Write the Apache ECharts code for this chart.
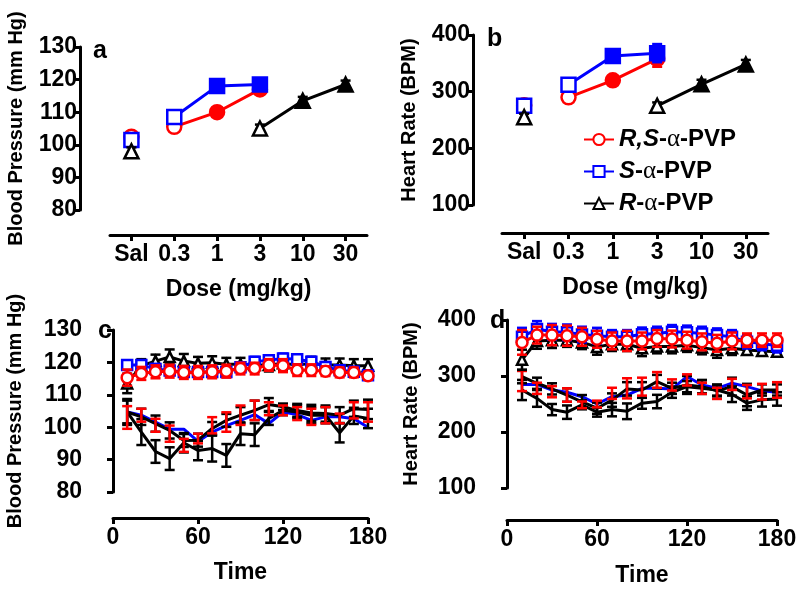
<!DOCTYPE html>
<html><head><meta charset="utf-8">
<script src="https://cdn.jsdelivr.net/npm/echarts@6/dist/echarts.min.js"></script>
<style>html,body{margin:0;padding:0;background:#fff}#c{width:800px;height:589px}</style>
</head><body><div id="c"></div>
<script>
// ---------- data ----------
const doseLabels = ['Sal', '0.3', '1', '3', '10', '30'];
const seriesNames = ['R,S-α-PVP', 'S-α-PVP', 'R-α-PVP'];

// panel a: blood pressure vs dose (index 0 = saline)
const bpRS = [102.5, 105.5, 110, 117, null, null];
const bpRSsem = [1.2, 1.2, 1.2, 1.5, null, null];
const bpRSsig = [0, 0, 1, 1, 0, 0];
const bpS = [101.5, 108.5, 118, 118.5, null, null];
const bpSsem = [1.2, 1.2, 1.2, 1.2, null, null];
const bpSsig = [0, 0, 1, 1, 0, 0];
const bpR = [98, null, null, 105, 113.5, 118.5];
const bpRsem = [1.2, null, null, 1.2, 1.2, 1.2];
const bpRsig = [0, 0, 0, 0, 1, 1];

// panel b: heart rate vs dose
const hrRS = [276, 290, 320, 358, null, null];
const hrRSsem = [8, 6, 8, 14, null, null];
const hrRSsig = [0, 0, 1, 1, 0, 0];
const hrS = [275, 312, 363, 368, null, null];
const hrSsem = [10, 6, 10, 16, null, null];
const hrSsig = [0, 0, 1, 1, 0, 0];
const hrR = [255, null, null, 275, 313, 348];
const hrRsem = [6, null, null, 6, 8, 8];
const hrRsig = [0, 0, 0, 0, 1, 1];

// panels c, d: time course
const timeTicks = [0, 60, 120, 180];
const times = [10, 20, 30, 40, 50, 60, 70, 80, 90, 100, 110, 120, 130, 140, 150, 160, 170, 180];

const tBpRS = [115.3, 116.6, 117.1, 117.3, 116.9, 116.9, 117.1, 117.3, 118.1, 118.1, 119.2, 119.0, 117.6, 117.6, 117.3, 116.9, 116.9, 115.9];
const tBpRSsem = [2.5, 2, 2, 2, 2, 2, 2, 2, 1.8, 1.8, 1.8, 2, 1.8, 1.8, 1.5, 1.5, 1.5, 1.2];
const tBpS = [119.2, 119.2, 118, 117.5, 117, 117, 117, 117, 118.5, 120.2, 120.7, 121.2, 121.0, 120.2, 118.6, 117.6, 117.1, 116];
const tBpSsem = [1.2, 1.2, 1.5, 1.5, 1.5, 1.5, 1.5, 1.5, 1.5, 1.5, 1.5, 1.5, 1.5, 1.5, 1.5, 1.5, 1.5, 1.2];
const tBpR = [113.5, 119, 120.4, 121.7, 120.4, 119.7, 119.9, 119.4, 119.4, 119.2, 119.2, 119.7, 119.2, 119.7, 119.2, 119.2, 119, 119];
const tBpRsem = [3, 2, 2, 2.3, 2.2, 2, 2, 2, 2, 2, 2, 2, 2, 2, 2, 2, 2, 2];

const tBpSalS = [104.7, 103.7, 101.6, 99.4, 99.4, 95.6, 98.5, 100.5, 102.1, 103.9, 101.1, 104.7, 103.9, 102.1, 103.2, 103.2, 102.6, 100];
const tBpSalA = [104.7, 98.5, 92.5, 90.3, 95.2, 92.8, 93.4, 91.3, 98, 97.7, 102.7, 105.2, 104.7, 103.7, 103.7, 98.3, 103.5, 102.7];
const tBpSalAsem = [4, 4, 3.5, 3.5, 3, 3, 4, 3.5, 3.5, 3.5, 2, 1.5, 2, 2.5, 2.5, 3, 2.5, 3];
const tBpSalB = [104.7, 103.2, 101.1, 99, 95.9, 96, 99.6, 102.1, 103.7, 105.2, 107, 106.3, 105.2, 104.4, 104.2, 103.7, 105.7, 105.5];
const tBpSalBsem = [3.5, 2.5, 2.5, 2.5, 2, 2, 2, 2, 2.5, 3, 2, 1, 2, 2.5, 2.5, 2.5, 2.5, 3];
const tBpSalRS = [103, 103.7, 100.6, 98, 94.4, 96.5, 100.6, 101.6, 103.7, 105.2, 105.7, 105.2, 104.2, 103.2, 103.7, 102.7, 105.2, 104.7];
const tBpSalRSsem = [3.5, 2, 2, 2.5, 2, 1.5, 2.5, 3, 3, 3, 2, 1.5, 2, 2.5, 2.5, 1.5, 2.5, 3];

const tHrRS = [360, 373, 373, 372, 370, 365.5, 362.6, 362.6, 362.6, 367, 366, 364, 361, 358.4, 362.6, 364, 364, 364];
const tHrRSsem = [22, 15, 18, 18, 16, 15, 15, 18, 15, 15, 15, 15, 15, 15, 15, 12, 12, 12];
const tHrS = [370, 384, 379, 378, 374, 372, 370, 370, 374.5, 376, 379, 378, 376, 373, 370, 361, 358, 354];
const tHrSsem = [16, 14, 14, 14, 14, 14, 12, 12, 12, 12, 12, 12, 12, 12, 12, 12, 12, 12];
const tHrR = [329, 362.6, 364, 364, 360, 352, 356.6, 356.6, 349.5, 352.5, 352.5, 355, 350.7, 346.5, 349.5, 346.5, 344.7, 343.5];
const tHrRsem = [18, 14, 14, 12, 12, 14, 12, 12, 14, 12, 12, 12, 12, 14, 12, 8, 8, 8];

const tHrSalS = [285, 285, 275, 271, 263, 250, 263, 266, 278, 278, 277, 299, 284, 278, 287, 281, 273.5, 271];
const tHrSalA = [275, 260, 240, 235.4, 248.5, 235.4, 240, 237, 251.5, 254.4, 271, 281, 278, 275, 267.5, 251.5, 257.4, 259];
const tHrSalAsem = [18, 15, 10, 12, 8, 8, 12, 14, 10, 12, 10, 10, 10, 10, 14, 12, 12, 12];
const tHrSalB = [299, 287, 277, 266, 254, 242.5, 257, 277, 275, 290, 278, 284, 281, 273.5, 281, 266, 275, 275];
const tHrSalBsem = [12, 10, 10, 12, 12, 10, 12, 12, 14, 12, 10, 16, 12, 10, 16, 20, 10, 10];
const tHrSalRS = [291, 278, 272, 266, 248.5, 250, 269, 278, 281, 293, 284, 293, 278, 269, 285, 272, 272, 275];
const tHrSalRSsem = [18, 10, 10, 12, 6, 6, 10, 18, 16, 14, 10, 10, 10, 10, 10, 12, 14, 14];

// ---------- styling ----------
const RED = '#ff0000', BLUE = '#0000ff', BLACK = '#000000';
const FONT = 'Liberation Sans';
const axisLineStyle = { color: '#000', width: 3 };
const lbl = { color: '#000', fontFamily: FONT, fontWeight: 'bold', fontSize: 23 };

function errSeries(ax, xs, means, sems, color, cap, z) {
  const data = [];
  means.forEach((m, i) => {
    if (m == null || sems[i] == null) return;
    data.push([xs[i], m - sems[i], m + sems[i]]);
  });
  return {
    type: 'custom', xAxisIndex: ax, yAxisIndex: ax, data, silent: true, z: z || 2,
    encode: { x: 0, y: [1, 2] },
    renderItem(params, api) {
      const x = api.value(0);
      const a = api.coord([x, api.value(1)]);
      const b = api.coord([x, api.value(2)]);
      const mk = (x1, y1, x2, y2) => ({ type: 'line', shape: { x1, y1, x2, y2 }, style: { stroke: color, lineWidth: 2.5 } });
      return { type: 'group', children: [
        mk(a[0], a[1], b[0], b[1]),
        mk(a[0] - cap, a[1], a[0] + cap, a[1]),
        mk(b[0] - cap, b[1], b[0] + cap, b[1])
      ] };
    }
  };
}

// dose-response line (saline excluded from the connected line)
function doseLine(ax, vals, sig, color, symbol, name, z) {
  return {
    type: 'line', name, xAxisIndex: ax, yAxisIndex: ax, z: z,
    symbol, symbolSize: 14,
    connectNulls: false,
    lineStyle: { color, width: 3 },
    itemStyle: { color: '#fff', borderColor: color, borderWidth: 2.5 },
    data: vals.map((v, i) => (i === 0 || v == null) ? null : { value: v, itemStyle: { color: sig[i] ? color : '#fff' } })
  };
}
function salPoint(ax, vals, color, symbol, z) {
  return {
    type: 'scatter', xAxisIndex: ax, yAxisIndex: ax, z: z,
    symbol, symbolSize: 14,
    itemStyle: { color: '#fff', borderColor: color, borderWidth: 2.5, opacity: 1 },
    data: [[0, vals[0]]]
  };
}
function timeLine(ax, vals, color, symbol, z, size) {
  return {
    type: 'line', xAxisIndex: ax, yAxisIndex: ax, z: z,
    symbol: symbol || 'none', symbolSize: size || 10, showSymbol: !!symbol,
    lineStyle: { color, width: 3 },
    itemStyle: { color: '#fff', borderColor: color, borderWidth: 2.5 },
    data: times.map((t, i) => [t, vals[i]])
  };
}
const idx = doseLabels.map((d, i) => i);

function catX(gi, offset) {
  return {
    type: 'category', gridIndex: gi, data: doseLabels, offset,
    axisLine: { show: true, lineStyle: axisLineStyle },
    axisTick: { show: true, alignWithLabel: true, length: 6, lineStyle: axisLineStyle },
    axisLabel: Object.assign({ margin: 8, interval: 0 }, lbl),
    splitLine: { show: false },
    name: 'Dose (mg/kg)', nameLocation: 'middle', nameGap: 43, nameTextStyle: lbl
  };
}
function timeX(gi, offset, gap) {
  return {
    type: 'value', gridIndex: gi, min: 0, max: 180, interval: 60, offset,
    axisLine: { show: true, lineStyle: axisLineStyle },
    axisTick: { show: true, length: 6, lineStyle: axisLineStyle },
    axisLabel: Object.assign({ margin: 8 }, lbl),
    splitLine: { show: false },
    name: 'Time', nameLocation: 'middle', nameGap: gap, nameTextStyle: lbl
  };
}
function valY(gi, min, max, interval, offset, name, gap) {
  return {
    type: 'value', gridIndex: gi, min, max, interval, offset,
    axisLine: { show: true, lineStyle: axisLineStyle },
    axisTick: { show: true, length: 6, lineStyle: axisLineStyle },
    axisLabel: Object.assign({ margin: 3 }, lbl),
    splitLine: { show: false },
    name, nameLocation: 'middle', nameGap: gap,
    nameTextStyle: { color: '#000', fontFamily: FONT, fontWeight: 'bold', fontSize: 20 }
  };
}
const letterFont = 'bold 25px "Liberation Sans", sans-serif';

const option = {
  animation: false,
  backgroundColor: '#fff',
  grid: [
    { left: 110, top: 47, width: 257, height: 163, outerBoundsMode: 'none' },
    { left: 502, top: 35, width: 266, height: 170, outerBoundsMode: 'none' },
    { left: 113, top: 330, width: 255, height: 162, outerBoundsMode: 'none' },
    { left: 507, top: 320, width: 270, height: 168, outerBoundsMode: 'none' }
  ],
  xAxis: [catX(0, 25), catX(1, 28), timeX(2, 26, 43), timeX(3, 32, 44)],
  yAxis: [
    valY(0, 80, 130, 10, 30, 'Blood Pressure (mm Hg)', 54),
    valY(1, 100, 400, 100, 29, 'Heart Rate (BPM)', 54),
    valY(2, 80, 130, 10, 28, 'Blood Pressure (mm Hg)', 60),
    valY(3, 100, 400, 100, 28, 'Heart Rate (BPM)', 58)
  ],
  legend: {
    orient: 'vertical', left: 578, top: 122, itemGap: 7, itemWidth: 30, itemHeight: 14,
    selectedMode: false,
    data: seriesNames,
    formatter: (name) => {
      const pre = name.split('-α-')[0];
      return '{i|' + pre + '}{n|-}{g|α}{n|-PVP}';
    },
    textStyle: {
      color: '#000', fontFamily: FONT, fontWeight: 'bold', fontSize: 24,
      rich: {
        i: { fontFamily: FONT, fontWeight: 'bold', fontStyle: 'italic', fontSize: 24, color: '#000' },
        n: { fontFamily: FONT, fontWeight: 'bold', fontSize: 24, color: '#000' },
        g: { fontFamily: 'Liberation Serif', fontWeight: 'normal', fontSize: 25, color: '#000' }
      }
    }
  },
  graphic: [
    { type: 'text', x: 93, y: 51, style: { text: 'a', font: letterFont, fill: '#000', verticalAlign: 'middle' } },
    { type: 'text', x: 487, y: 39, style: { text: 'b', font: letterFont, fill: '#000', verticalAlign: 'middle' } },
    { type: 'text', x: 98, y: 331, style: { text: 'c', font: letterFont, fill: '#000', verticalAlign: 'middle' } },
    { type: 'text', x: 490, y: 321, style: { text: 'd', font: letterFont, fill: '#000', verticalAlign: 'middle' } }
  ],
  series: [
    // panel a
    errSeries(0, idx, bpRS, bpRSsem, RED, 5, 2),
    salPoint(0, bpRS, RED, 'circle', 3),
    doseLine(0, bpRS, bpRSsig, RED, 'circle', 'a-rs', 3),
    errSeries(0, idx, bpS, bpSsem, BLUE, 5, 4),
    salPoint(0, bpS, BLUE, 'rect', 5),
    doseLine(0, bpS, bpSsig, BLUE, 'rect', 'a-s', 5),
    errSeries(0, idx, bpR, bpRsem, BLACK, 5, 6),
    salPoint(0, bpR, BLACK, 'triangle', 7),
    doseLine(0, bpR, bpRsig, BLACK, 'triangle', 'a-r', 7),
    // panel b
    errSeries(1, idx, hrRS, hrRSsem, RED, 5, 2),
    salPoint(1, hrRS, RED, 'circle', 3),
    doseLine(1, hrRS, hrRSsig, RED, 'circle', seriesNames[0], 3),
    errSeries(1, idx, hrS, hrSsem, BLUE, 5, 4),
    salPoint(1, hrS, BLUE, 'rect', 5),
    doseLine(1, hrS, hrSsig, BLUE, 'rect', seriesNames[1], 5),
    errSeries(1, idx, hrR, hrRsem, BLACK, 5, 6),
    salPoint(1, hrR, BLACK, 'triangle', 7),
    doseLine(1, hrR, hrRsig, BLACK, 'triangle', seriesNames[2], 7),
    // panel c lower
    timeLine(2, tBpSalS, BLUE, null, 2),
    errSeries(2, times, tBpSalA, tBpSalAsem, BLACK, 5, 3),
    timeLine(2, tBpSalA, BLACK, null, 3),
    errSeries(2, times, tBpSalB, tBpSalBsem, BLACK, 5, 3),
    timeLine(2, tBpSalB, BLACK, null, 3),
    errSeries(2, times, tBpSalRS, tBpSalRSsem, RED, 5, 4),
    // panel c upper
    errSeries(2, times, tBpR, tBpRsem, BLACK, 5, 5),
    timeLine(2, tBpR, BLACK, 'triangle', 5, 10),
    errSeries(2, times, tBpS, tBpSsem, BLUE, 5, 6),
    timeLine(2, tBpS, BLUE, 'rect', 6, 10),
    errSeries(2, times, tBpRS, tBpRSsem, RED, 5, 7),
    timeLine(2, tBpRS, RED, 'circle', 7, 11),
    // panel d lower
    timeLine(3, tHrSalS, BLUE, null, 2),
    errSeries(3, times, tHrSalA, tHrSalAsem, BLACK, 5, 3),
    timeLine(3, tHrSalA, BLACK, null, 3),
    errSeries(3, times, tHrSalB, tHrSalBsem, BLACK, 5, 3),
    timeLine(3, tHrSalB, BLACK, null, 3),
    errSeries(3, times, tHrSalRS, tHrSalRSsem, RED, 5, 4),
    // panel d upper
    errSeries(3, times, tHrR, tHrRsem, BLACK, 5, 5),
    timeLine(3, tHrR, BLACK, 'triangle', 5, 10),
    errSeries(3, times, tHrS, tHrSsem, BLUE, 5, 6),
    timeLine(3, tHrS, BLUE, 'rect', 6, 10),
    errSeries(3, times, tHrRS, tHrRSsem, RED, 5, 7),
    timeLine(3, tHrRS, RED, 'circle', 7, 11)
  ]
};
const chart = echarts.init(document.getElementById('c'), null, { renderer: 'canvas' });
chart.setOption(option);
</script></body></html>
